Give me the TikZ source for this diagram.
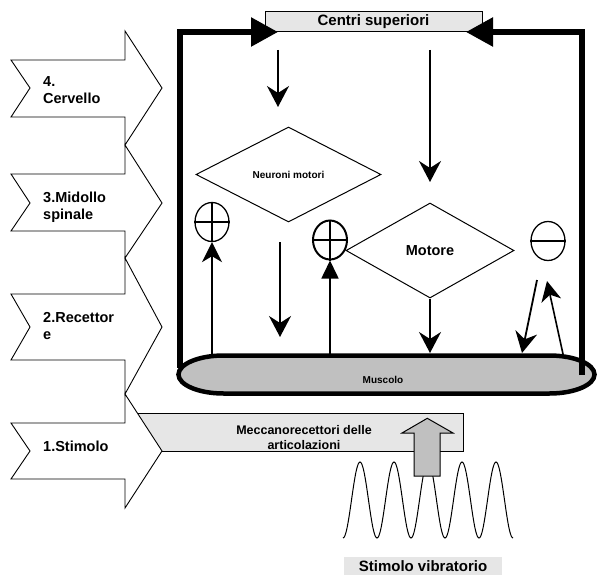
\documentclass[tikz,border=0pt]{standalone}
\usepackage{fontspec}
\setmainfont{Liberation Sans}
\usetikzlibrary{arrows.meta,shapes.geometric,calc}
\definecolor{lightbox}{HTML}{E6E6E6}
\definecolor{musclegray}{HTML}{C0C0C0}
\begin{document}
\begin{tikzpicture}[x=1pt,y=-1pt,
  chevron/.style={draw=black,fill=white,line width=0.9pt,line join=miter},
  chevtext/.style={anchor=base west,inner sep=0pt,font=\fontsize{14.5}{17}\selectfont\bfseries},
  frame/.style={line width=5.5pt,line join=miter},
  bigtip/.style={-{Triangle[length=27pt,width=28pt]}},
  thinarrow/.style={line width=1.8pt,-{Stealth[length=21pt,width=22pt,inset=7pt]}},
  uparrow/.style={line width=1.6pt,-{Stealth[length=20pt,width=20pt,inset=6pt]}},
  triarrow/.style={line width=1.6pt,-{Triangle[length=18pt,width=17pt]}},
  diam/.style={diamond,draw=black,line width=1pt,inner sep=0pt},
  sign/.style={ellipse,draw=black,minimum width=34pt,minimum height=39pt,inner sep=0pt},
  graybox/.style={rectangle,draw=black,fill=lightbox,line width=1pt,inner sep=0pt}
]
\path[use as bounding box] (0,0) rectangle (597,575);

% Centri superiori
\node[graybox,minimum width=217pt,minimum height=20pt,font=\fontsize{15}{17}\selectfont\bfseries] (centri) at (373.5,22) {Centri superiori};

% frame (left part)
\coordinate (fl) at (180,368);
\coordinate (flt) at (180,32);
\coordinate (fla) at (278,32);
\draw[frame,bigtip] (fl) -- (flt) -- (fla);

% muscle
\draw[line width=4.5pt,fill=musclegray]
  (223.5,355.5) -- (549.5,355.5)
  .. controls (574.3,355.5) and (594.5,364) .. (594.5,374.5)
  .. controls (594.5,385) and (574.3,393.5) .. (549.5,393.5)
  -- (223.5,393.5)
  .. controls (198.7,393.5) and (178.5,385) .. (178.5,374.5)
  .. controls (178.5,364) and (198.7,355.5) .. (223.5,355.5) -- cycle;
\node[inner sep=0pt,font=\fontsize{10}{12}\selectfont\bfseries] (muscolo) at (383,379.5) {Muscolo};

% frame (right part)
\coordinate (fr) at (582,375);
\coordinate (frt) at (582,32);
\coordinate (fra) at (466,32);
\draw[frame,bigtip] (fr) -- (frt) -- (fra);

% diamonds
\node[diam,minimum width=185pt,minimum height=95pt,font=\fontsize{10}{12}\selectfont\bfseries] (neuroni) at (288.5,174.5) {Neuroni motori};
\node[diam,minimum width=168pt,minimum height=95pt,font=\fontsize{14.5}{17}\selectfont\bfseries] (motore) at (430,250.5) {Motore};

% signs
\node[sign,line width=1.3pt] (plus1) at (212,222) {};
\draw[line width=1.3pt] (plus1.north) -- (plus1.south) (plus1.west) -- (plus1.east);
\node[sign,line width=2pt] (plus2) at (330,240) {};
\draw[line width=2pt] (plus2.north) -- (plus2.south) (plus2.west) -- (plus2.east);
\node[sign,line width=1.3pt] (minus) at (548,241) {};
\draw[line width=1.3pt] (minus.west) -- (minus.east);

% arrows
\coordinate (a1s) at (278,50);
\coordinate (a1e) at (278,107);
\coordinate (a2s) at (430,50);
\coordinate (a2e) at (430,182);
\coordinate (m1) at (212,354);
\coordinate (a4s) at (280,242);
\coordinate (a4e) at (280,337);
\coordinate (m2) at (330,354);
\coordinate (m3) at (430,353);
\coordinate (a7s) at (537,280);
\coordinate (m4) at (522,353);
\coordinate (m5) at (563,354);
\coordinate (a8e) at (547,281);
\draw[thinarrow] (a1s) -- (a1e);
\draw[thinarrow] (a2s) -- (a2e);
\draw[uparrow] (m1) -- (plus1.south);
\draw[thinarrow] (a4s) -- (a4e);
\draw[triarrow] (m2) -- (plus2.south);
\draw[thinarrow] (motore.south) -- (m3);
\draw[thinarrow] (a7s) -- (m4);
\draw[uparrow] (m5) -- (a8e);

% mechanoreceptor box
\node[graybox,minimum width=332pt,minimum height=38pt] (mecc) at (297,432) {};
\node[align=center,inner sep=0pt,font=\fontsize{12.5}{15}\selectfont\bfseries] (mecctext) at (304,437.5) {Meccanorecettori delle\\articolazioni};

% vibration
\draw[line width=1pt] plot[domain=0:170,samples=171,smooth] ({343+\x},{500+38*cos(10.5882*\x)});
\draw[line width=1pt,fill=musclegray,line join=miter]
  (414,476) -- (414,433) -- (402,433) -- (427.3,418.3) -- (453,433) -- (440,433) -- (440,476) -- cycle;

% chevrons
\draw[chevron] (11,60) -- (125,60) -- (125,31) -- (162,88) -- (125,145) -- (125,117) -- (11,117) -- (30,88) -- cycle;
\draw[chevron] (11,174) -- (125,174) -- (125,145) -- (162,203) -- (125,258) -- (125,231) -- (11,231) -- (30,203) -- cycle;
\draw[chevron] (11,294) -- (125,294) -- (125,258) -- (162,327) -- (125,394) -- (125,360) -- (11,360) -- (30,327) -- cycle;
\draw[chevron] (11,423) -- (125,423) -- (125,394) -- (162,451) -- (125,508) -- (125,479) -- (11,479) -- (30,451) -- cycle;
\node[chevtext] (c4a) at (43,87) {4.};
\node[chevtext] (c4b) at (43,104) {Cervello};
\node[chevtext] (c3a) at (43,202) {3.Midollo};
\node[chevtext] (c3b) at (43,219) {spinale};
\node[chevtext] (c2a) at (43,322) {2.Recettor};
\node[chevtext] (c2b) at (43,339) {e};
\node[chevtext] (c1a) at (43,451) {1.Stimolo};

% stimolo vibratorio
\node[rectangle,fill=lightbox,minimum width=158pt,minimum height=18pt,inner sep=0pt,font=\fontsize{15}{17}\selectfont\bfseries] (stimolo) at (423,566) {Stimolo vibratorio};
\end{tikzpicture}
\end{document}
